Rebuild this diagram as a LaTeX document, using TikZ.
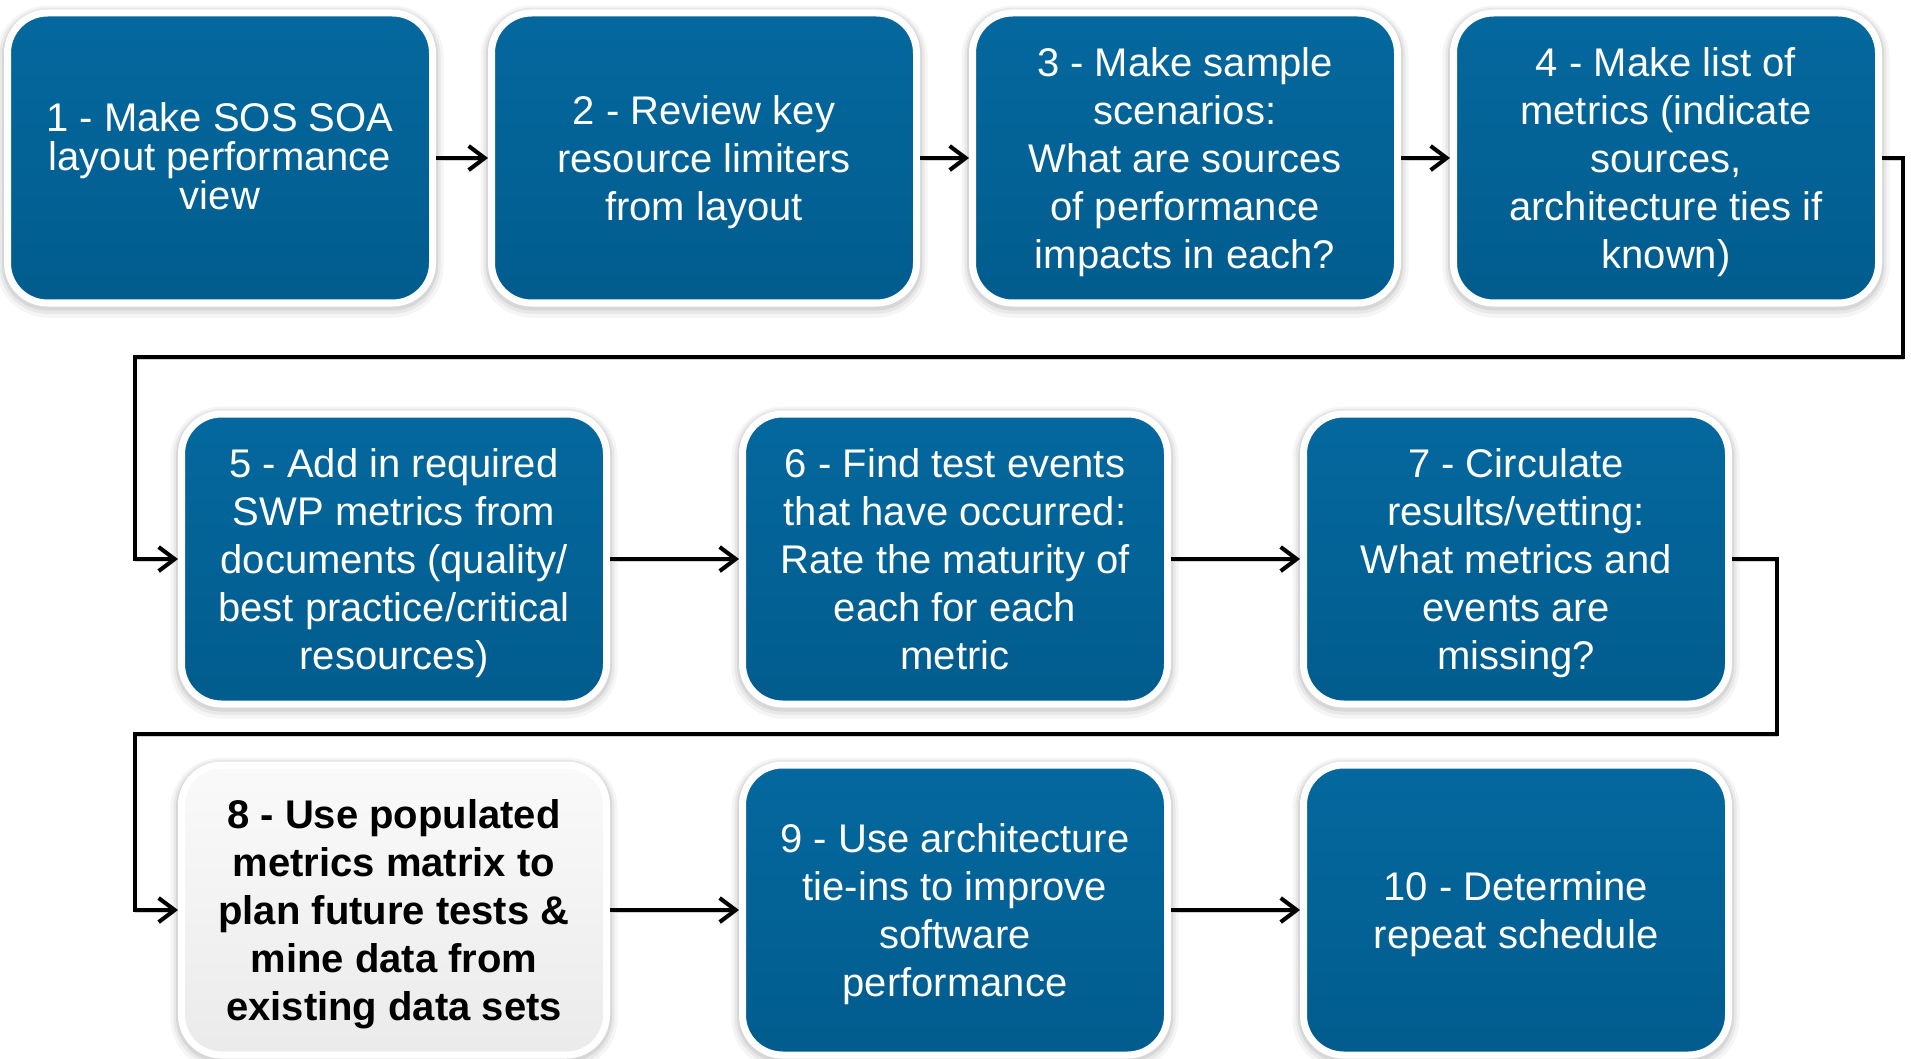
\documentclass[tikz,border=0pt]{standalone}
\usepackage{fontspec}
\setmainfont{Liberation Sans}
\usetikzlibrary{arrows.meta}
\definecolor{boxbluetop}{RGB}{4,104,158}
\definecolor{boxbluebot}{RGB}{2,92,142}
\newcommand{\topst}{\rule{0pt}{19.6pt}}
\newcommand{\botst}{\rule[-5pt]{0pt}{5pt}}
\begin{document}
\begin{tikzpicture}[x=0.5pt,y=-0.5pt,
  halo/.style={
    preaction={draw=black, draw opacity=0.04, line width=11pt, transform canvas={yshift=-1.8pt}},
    preaction={draw=black, draw opacity=0.05, line width=8pt, transform canvas={yshift=-1.4pt}},
    preaction={draw=black, draw opacity=0.07, line width=5.5pt, transform canvas={yshift=-1pt}}},
  stepbox/.style={halo, rounded corners=20pt, minimum width=212.5pt, minimum height=145pt,
    inner sep=0pt, align=center, draw=white, line width=3.5pt,
    font=\fontsize{20}{24}\selectfont, text=white,
    top color=boxbluetop, bottom color=boxbluebot},
  hlbox/.style={stepbox, top color=black!2, bottom color=black!8, text=black,
    font=\fontsize{20}{24}\selectfont\bfseries},
  arr/.style={draw=black, line width=2pt, -{Straight Barb[length=8pt,width=12pt]},
    preaction={draw=black!18, transform canvas={yshift=-1.2pt}}}]
\useasboundingbox[fill=white] (0,0) rectangle (1911,1059);
% row 1
\node[stepbox, font=\fontsize{20}{19.5}\selectfont] (b1) at (220,158) {\rule{0pt}{17.2pt}1 - Make SOS SOA\\layout performance\\view\botst};
\node[stepbox] (b2) at (704,158) {\topst 2 - Review key\\resource limiters\\from layout\botst};
\node[stepbox] (b3) at (1185,158) {\topst 3 - Make sample\\scenarios:\\What are sources\\of performance\\impacts in each?\botst};
\node[stepbox] (b4) at (1666,158) {\topst 4 - Make list of\\metrics (indicate\\sources,\\architecture ties if\\known)\botst};
% row 2
\node[stepbox] (b5) at (394,559) {\topst 5 - Add in required\\SWP metrics from\\documents (quality/\\best practice/critical\\resources)\botst};
\node[stepbox] (b6) at (955,559) {\topst 6 - Find test events\\that have occurred:\\Rate the maturity of\\each for each\\metric\botst};
\node[stepbox] (b7) at (1516,559) {\topst 7 - Circulate\\results/vetting:\\What metrics and\\events are\\missing?\botst};
% row 3
\node[hlbox] (b8) at (394,910) {\topst 8 - Use populated\\metrics matrix to\\plan future tests \&\\mine data from\\existing data sets\botst};
\node[stepbox] (b9) at (955,910) {\topst 9 - Use architecture\\tie-ins to improve\\software\\performance\botst};
\node[stepbox] (b10) at (1516,910) {\topst 10 - Determine\\repeat schedule\botst};
% turn points
\coordinate (r1) at (1903,357);
\coordinate (l1) at (135,357);
\coordinate (r2) at (1777,734);
\coordinate (l2) at (135,734);
% connectors
\draw[arr] (b1) -- (b2);
\draw[arr] (b2) -- (b3);
\draw[arr] (b3) -- (b4);
\draw[arr] (b4.east) -| (r1) -- (l1) |- (b5.west);
\draw[arr] (b5) -- (b6);
\draw[arr] (b6) -- (b7);
\draw[arr] (b7.east) -| (r2) -- (l2) |- (b8.west);
\draw[arr] (b8) -- (b9);
\draw[arr] (b9) -- (b10);
\end{tikzpicture}
\end{document}
